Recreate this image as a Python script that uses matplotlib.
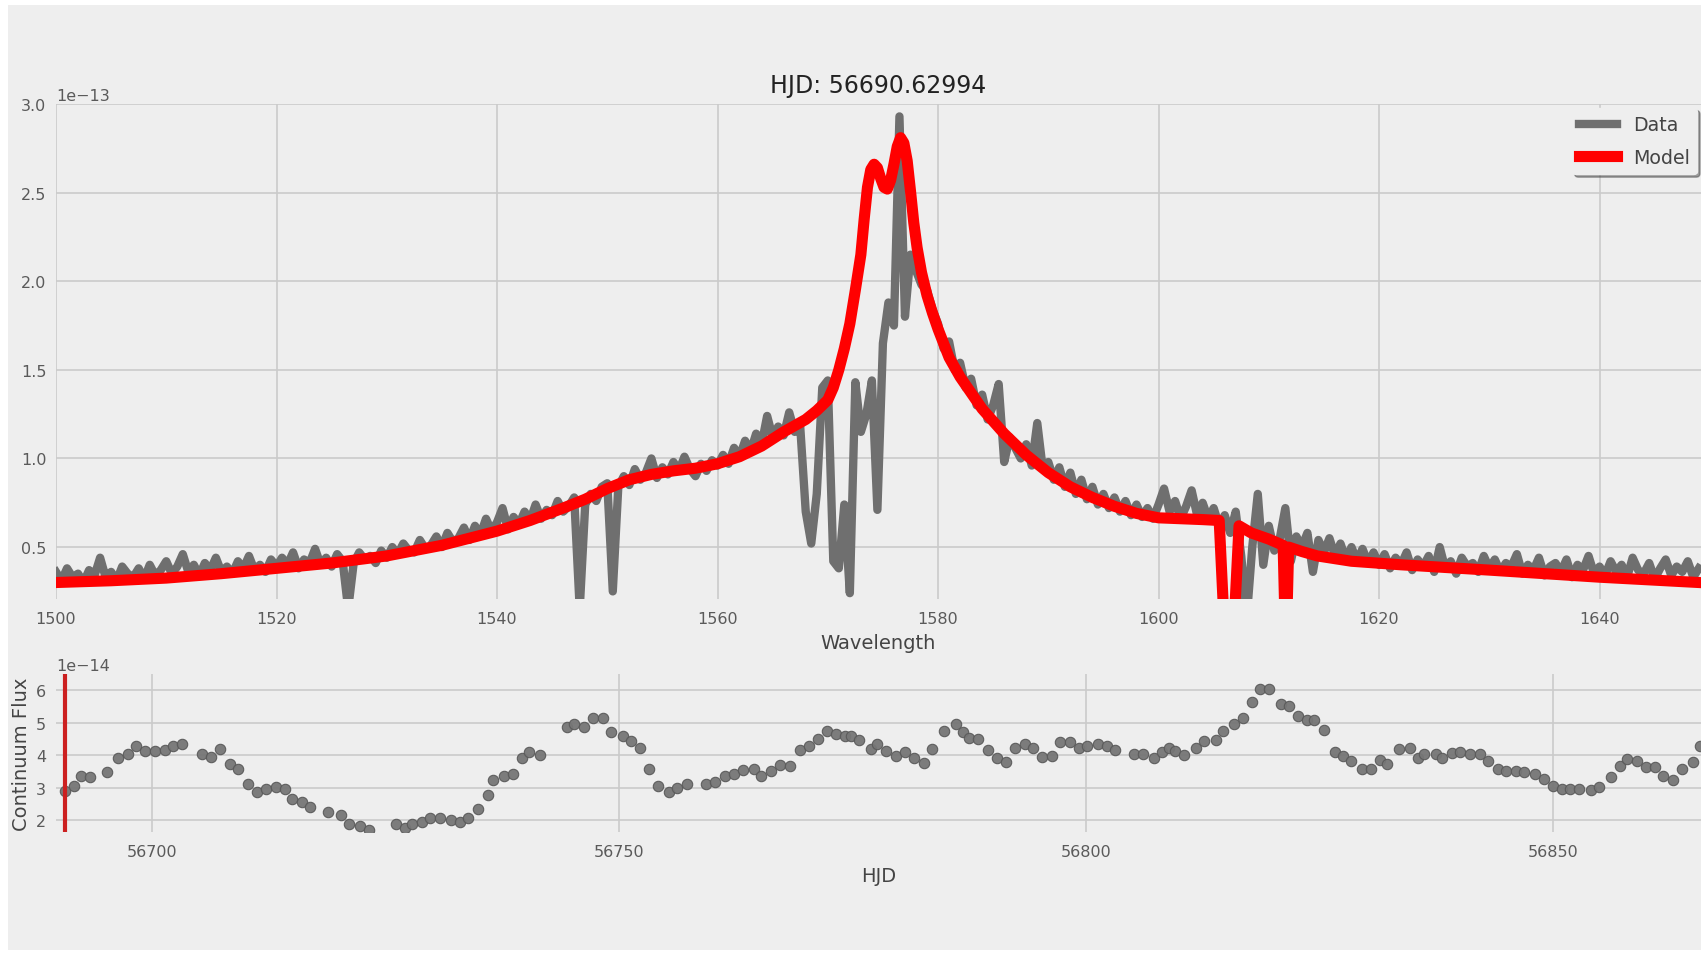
import numpy as np
import matplotlib
matplotlib.use('Agg')
import matplotlib.pyplot as plt
from matplotlib.patches import Rectangle
from matplotlib.ticker import MultipleLocator

# spectrum (flux in units of 1e-13), sampled every 0.5 A from 1500 to 1649
wave_start = 1500.0
wave_step = 0.5
flux_1500 = [0.36, 0.31, 0.38, 0.33, 0.35, 0.30, 0.37, 0.34, 0.44, 0.33, 0.36, 0.31, 0.39, 0.35, 0.33, 0.38, 0.32, 0.40, 0.34, 0.37]
flux_1510 = [0.42, 0.35, 0.39, 0.46, 0.36, 0.40, 0.34, 0.41, 0.37, 0.44, 0.36, 0.39, 0.35, 0.42, 0.38, 0.45, 0.37, 0.40, 0.36, 0.43]
flux_1520 = [0.39, 0.44, 0.40, 0.47, 0.38, 0.43, 0.41, 0.49, 0.40, 0.44, 0.39, 0.46, 0.42, 0.15, 0.41, 0.47, 0.43, 0.45, 0.41, 0.48]
flux_1530 = [0.44, 0.50, 0.46, 0.52, 0.48, 0.47, 0.54, 0.49, 0.51, 0.56, 0.50, 0.58, 0.53, 0.55, 0.61, 0.54, 0.62, 0.57, 0.66, 0.59]
flux_1540 = [0.64, 0.72, 0.60, 0.67, 0.63, 0.70, 0.65, 0.74, 0.66, 0.71, 0.68, 0.76, 0.70, 0.73, 0.78, 0.15, 0.74, 0.80, 0.76, 0.84]
flux_1550 = [0.86, 0.25, 0.84, 0.90, 0.85, 0.94, 0.88, 0.92, 1.00, 0.89, 0.95, 0.91, 0.98, 0.93, 1.01, 0.94, 0.90, 0.97, 0.93, 0.99]
flux_1560 = [0.96, 1.02, 0.97, 1.06, 1.01, 1.10, 1.04, 1.14, 1.08, 1.24, 1.12, 1.18, 1.13, 1.26, 1.15, 1.18, 0.70, 0.52, 0.80, 1.40]
flux_1570 = [1.44, 0.42, 0.38, 0.74, 0.24, 1.43, 1.15, 1.25, 1.44, 0.71, 1.65, 1.88, 1.75, 2.93, 1.80, 2.15, 2.06, 1.98, 1.95, 1.84]
flux_1580 = [1.76, 1.62, 1.66, 1.50, 1.54, 1.40, 1.45, 1.30, 1.36, 1.22, 1.30, 1.42, 0.98, 1.12, 1.06, 1.00, 1.08, 0.96, 1.20, 0.94]
flux_1590 = [0.98, 0.88, 0.95, 0.84, 0.92, 0.80, 0.88, 0.77, 0.84, 0.74, 0.80, 0.72, 0.78, 0.70, 0.76, 0.68, 0.74, 0.67, 0.72, 0.66]
flux_1600 = [0.74, 0.83, 0.70, 0.76, 0.66, 0.73, 0.82, 0.68, 0.75, 0.66, 0.72, 0.62, 0.68, 0.58, 0.70, 0.45, 0.10, 0.50, 0.80, 0.40]
flux_1610 = [0.62, 0.48, 0.55, 0.72, 0.42, 0.56, 0.50, 0.58, 0.36, 0.54, 0.47, 0.55, 0.45, 0.52, 0.43, 0.50, 0.42, 0.49, 0.41, 0.47]
flux_1620 = [0.40, 0.46, 0.38, 0.44, 0.40, 0.47, 0.37, 0.43, 0.39, 0.45, 0.36, 0.50, 0.38, 0.42, 0.35, 0.44, 0.39, 0.41, 0.36, 0.45]
flux_1630 = [0.38, 0.43, 0.36, 0.41, 0.39, 0.46, 0.35, 0.40, 0.37, 0.44, 0.34, 0.39, 0.41, 0.36, 0.43, 0.33, 0.40, 0.37, 0.45, 0.35]
flux_1640 = [0.39, 0.34, 0.42, 0.36, 0.40, 0.33, 0.44, 0.37, 0.35, 0.41, 0.32, 0.38, 0.43, 0.34, 0.39, 0.36, 0.42, 0.33, 0.38]

# model curve (flux in units of 1e-13)
model_wave = [1500, 1505, 1510, 1515, 1520, 1525, 1530, 1535, 1540, 1543, 1546, 1548, 1550, 1552, 1554, 1556, 1558, 1560,
              1562, 1564, 1566, 1568, 1569, 1570, 1570.5, 1571, 1571.5, 1572, 1572.5, 1573, 1573.3, 1573.6, 1573.9, 1574.2,
              1574.5, 1574.8, 1575.1, 1575.4, 1575.7, 1576.0, 1576.3, 1576.6, 1576.9, 1577.2, 1577.5, 1577.8, 1578.1, 1578.5,
              1579.0, 1579.5, 1580.0, 1580.5, 1581, 1582, 1583, 1584, 1585, 1586, 1588, 1590, 1592, 1594, 1596, 1598, 1600,
              1602, 1604, 1605.5, 1606.0, 1606.8, 1607.3, 1608.4, 1610, 1611.3, 1611.5, 1611.6, 1611.8, 1613, 1614.4, 1617.5,
              1622, 1630, 1640, 1649]
model_flux = [0.30, 0.31, 0.325, 0.35, 0.38, 0.41, 0.45, 0.51, 0.59, 0.65, 0.72, 0.77, 0.83, 0.88, 0.91, 0.93, 0.945, 0.97,
              1.01, 1.07, 1.15, 1.22, 1.27, 1.33, 1.40, 1.50, 1.62, 1.76, 1.95, 2.15, 2.35, 2.53, 2.63, 2.66,
              2.64, 2.58, 2.53, 2.52, 2.57, 2.66, 2.76, 2.81, 2.78, 2.68, 2.51, 2.33, 2.19, 2.05,
              1.92, 1.82, 1.73, 1.65, 1.57, 1.46, 1.37, 1.28, 1.21, 1.14, 1.02, 0.92, 0.84, 0.78, 0.73, 0.69, 0.665,
              0.66, 0.655, 0.65, 0.0, 0.0, 0.62, 0.58, 0.545, 0.51, 0.0, 0.0, 0.50, 0.475, 0.45, 0.42,
              0.40, 0.37, 0.33, 0.30]

# continuum light curve (flux in units of 1e-14)
hjd = [56690.7, 56691.6, 56692.4, 56693.3, 56695.2, 56696.3, 56697.4, 56698.3, 56699.2, 56700.3,
       56701.4, 56702.2, 56703.2, 56705.3, 56706.3, 56707.3, 56708.3, 56709.2, 56710.3, 56711.2,
       56712.2, 56713.2, 56714.2, 56715.0, 56716.0, 56716.9, 56718.8, 56720.2, 56721.1, 56722.2,
       56723.2, 56726.1, 56727.1, 56727.8, 56728.9, 56729.7, 56730.8, 56732.0, 56733.0, 56733.8,
       56734.9, 56735.9, 56736.5, 56737.7, 56738.6, 56739.6, 56740.3, 56741.5, 56744.4, 56745.2,
       56746.2, 56747.2, 56748.3, 56749.1, 56750.4, 56751.3, 56752.2, 56753.2, 56754.1, 56755.3,
       56756.2, 56757.3, 56759.3, 56760.3, 56761.3, 56762.3, 56763.2, 56764.4, 56765.2, 56766.2,
       56767.2, 56768.3, 56769.3, 56770.3, 56771.3, 56772.2, 56773.2, 56774.2, 56774.8, 56775.7,
       56776.9, 56777.6, 56778.5, 56779.6, 56780.6, 56781.6, 56782.6, 56783.5, 56784.8, 56786.0,
       56786.8, 56787.4, 56788.4, 56789.5, 56790.4, 56791.4, 56792.4, 56793.4, 56794.3, 56795.3,
       56796.3, 56797.2, 56798.2, 56799.2, 56800.1, 56801.2, 56802.2, 56803.1, 56805.1, 56806.1,
       56807.2, 56808.1, 56808.9, 56809.5, 56810.5, 56811.7, 56812.6, 56813.9, 56814.6, 56815.8,
       56816.8, 56817.7, 56818.6, 56819.6, 56820.8, 56821.7, 56822.7, 56823.6, 56824.4, 56825.4,
       56826.6, 56827.5, 56828.3, 56829.5, 56830.5, 56831.4, 56832.2, 56833.5, 56834.7, 56835.5,
       56836.1, 56837.4, 56838.1, 56839.1, 56840.0, 56841.1, 56842.1, 56843.0, 56844.1, 56844.9,
       56846.0, 56846.9, 56848.0, 56849.0, 56850.0, 56850.9, 56851.8, 56852.7, 56854.0, 56854.9,
       56856.2, 56857.1, 56857.9, 56858.9, 56859.9, 56860.9, 56861.7, 56862.8, 56863.8, 56864.9,
       56865.7]
cont_flux = [2.88, 3.06, 3.37, 3.31, 3.47, 3.92, 4.03, 4.29, 4.13, 4.13,
             4.16, 4.28, 4.34, 4.03, 3.95, 4.18, 3.72, 3.58, 3.10, 2.86,
             2.96, 3.02, 2.96, 2.65, 2.55, 2.41, 2.25, 2.14, 1.88, 1.81,
             1.70, 1.89, 1.75, 1.88, 1.94, 2.06, 2.06, 2.00, 1.94, 2.06,
             2.35, 2.76, 3.22, 3.36, 3.41, 3.90, 4.09, 4.01, 4.87, 4.95,
             4.87, 5.15, 5.15, 4.72, 4.60, 4.43, 4.23, 3.58, 3.06, 2.86,
             3.00, 3.12, 3.10, 3.17, 3.37, 3.43, 3.53, 3.58, 3.35, 3.51,
             3.68, 3.67, 4.17, 4.27, 4.49, 4.74, 4.64, 4.58, 4.60, 4.48,
             4.18, 4.35, 4.13, 3.96, 4.09, 3.92, 3.77, 4.18, 4.74, 4.95,
             4.70, 4.52, 4.49, 4.17, 3.92, 3.78, 4.23, 4.35, 4.23, 3.93,
             3.96, 4.39, 4.39, 4.23, 4.29, 4.35, 4.29, 4.17, 4.03, 4.03,
             3.92, 4.09, 4.21, 4.13, 4.01, 4.23, 4.43, 4.48, 4.74, 4.95,
             5.13, 5.64, 6.05, 6.05, 5.59, 5.51, 5.20, 5.08, 5.08, 4.77,
             4.09, 3.97, 3.82, 3.58, 3.58, 3.84, 3.72, 4.18, 4.23, 3.92,
             4.04, 4.04, 3.92, 4.05, 4.09, 4.04, 4.04, 3.82, 3.58, 3.52,
             3.52, 3.47, 3.41, 3.27, 3.06, 2.96, 2.96, 2.96, 2.91, 3.01,
             3.31, 3.67, 3.87, 3.83, 3.62, 3.62, 3.36, 3.22, 3.58, 3.78,
             4.28]
current_hjd = 56690.62994

BG = '#eeeeee'
GRID = '#cbcbcb'

spec_flux = np.array(flux_1500 + flux_1510 + flux_1520 + flux_1530 + flux_1540 + flux_1550 + flux_1560 +
                     flux_1570 + flux_1580 + flux_1590 + flux_1600 + flux_1610 + flux_1620 + flux_1630 + flux_1640)
spec_wave = wave_start + wave_step * np.arange(len(spec_flux))

fig = plt.figure(figsize=(17.01, 9.54), dpi=100, facecolor='white')
# light grey panel (the screenshot has a thin white border on left/top)
bg = Rectangle((8 / 1701, 3 / 954), 1 - 8 / 1701, 1 - 9 / 954, transform=fig.transFigure,
               facecolor=BG, edgecolor='none', zorder=-10)
fig.patches.append(bg)

ax = fig.add_axes([56 / 1701, 1 - 600 / 954, 1 - 56 / 1701, 495 / 954])
ax2 = fig.add_axes([56 / 1701, 1 - 833 / 954, 1 - 56 / 1701, 158 / 954])

for a in (ax, ax2):
  a.set_facecolor(BG)
  a.set_axisbelow(True)
  a.grid(True, color=GRID, linewidth=1.2)
  for s in a.spines.values():
    s.set_visible(False)
  a.tick_params(length=0, labelsize=11.5, labelcolor='#5a5a5a')
  a.yaxis.get_offset_text().set_fontsize(11.5)
  a.yaxis.get_offset_text().set_color('#5a5a5a')

# top: spectrum and model
ax.plot(spec_wave, spec_flux * 1e-13, color='#6f6f6f', lw=6, label='Data')
ax.plot(model_wave, np.array(model_flux) * 1e-13, color='#ff0000', lw=8, label='Model')
ax.set_xlim(1500, 1649.2)
ax.set_ylim(0.207e-13, 3.0e-13)
ax.xaxis.set_major_locator(MultipleLocator(20))
ax.yaxis.set_major_locator(MultipleLocator(0.5e-13))
ax.tick_params(axis='x', pad=9)
ax.tick_params(axis='y', pad=7)
ax.set_xlabel('Wavelength', fontsize=14, color='#444444', labelpad=5)
ax.set_title('HJD: %.5f' % current_hjd, fontsize=17, color='#222222', pad=9)
leg = ax.legend(loc='upper right', fontsize=13.7, shadow=True, fancybox=True,
                facecolor=BG, edgecolor=BG, framealpha=1, labelspacing=0.7, borderaxespad=0.2)
for t in leg.get_texts():
  t.set_color('#444444')

# bottom: continuum light curve
ax2.plot(hjd, np.array(cont_flux) * 1e-14, 'o', color='#767676', mec='#5a5a5a', mew=0.8, ms=7.5, alpha=0.95)
ax2.axvline(current_hjd, color='#cc2020', lw=3)
ax2.set_xlim(56689.7, 56865.8)
ax2.set_ylim(1.63e-14, 6.5e-14)
ax2.xaxis.set_major_locator(MultipleLocator(50))
ax2.ticklabel_format(axis='x', useOffset=False, style='plain')
ax2.yaxis.set_major_locator(MultipleLocator(1e-14))
ax2.tick_params(axis='x', pad=9)
ax2.tick_params(axis='y', pad=7)
ax2.set_xlabel('HJD', fontsize=14, color='#444444', labelpad=5)
ax2.set_ylabel('Continuum Flux', fontsize=14, color='#444444', labelpad=4)

fig.savefig('out.png', dpi=100, facecolor=fig.get_facecolor())
